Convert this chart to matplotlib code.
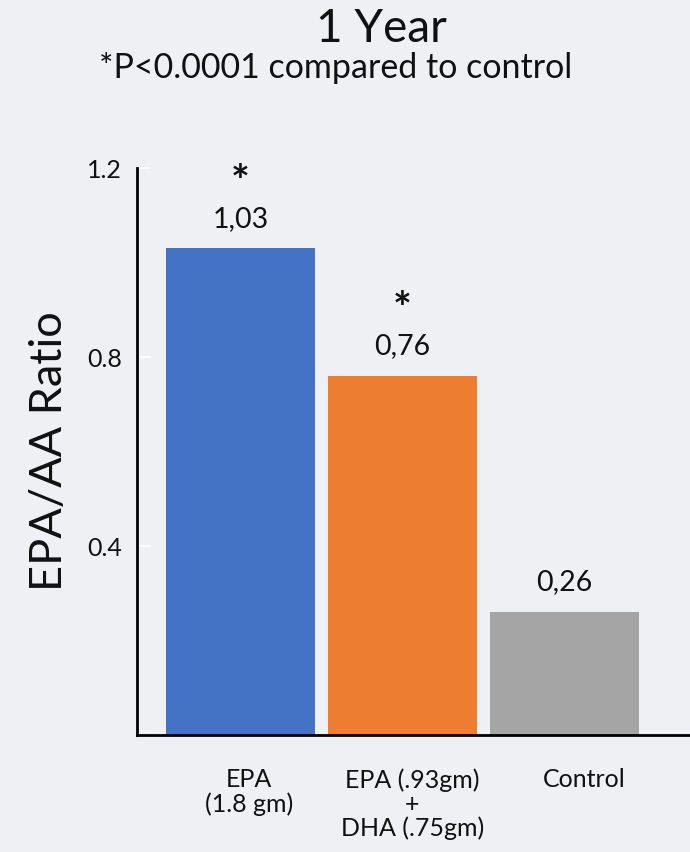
import matplotlib.pyplot as plt
from matplotlib import transforms

groups = ['EPA\n(1.8 gm)', 'EPA (.93gm)\n+\nDHA (.75gm)', 'Control']
ratio = [1.03, 0.76, 0.26]
value_text = ['1,03', '0,76', '0,26']
significant = [True, True, False]
yticks = [0.4, 0.8, 1.2]

colors = ['#4472C4', '#ED7D31', '#A5A5A5']
bg = '#eef0f3'

plt.rcParams['font.family'] = ['Lato', 'DejaVu Sans']

fig = plt.figure(figsize=(6.9, 8.52), dpi=100, facecolor=bg)
ax = fig.add_axes([0.1986, 0.1373, 0.8014, 0.6655], facecolor=bg)

x = list(range(len(ratio)))
ax.bar(x, ratio, width=0.92, color=colors)

for xi, v, t, star in zip(x, ratio, value_text, significant):
    ax.annotate(t, (xi, v), xytext=(0, 12), textcoords='offset points',
                ha='center', va='bottom', fontsize=20.5, color='#111111')
    if star:
        ax.annotate('*', (xi, v), xytext=(0, 33), textcoords='offset points',
                    ha='center', va='bottom', fontsize=32, fontweight='bold',
                    color='#111111')

ax.set_xlim(-0.639, 2.775)
ax.set_ylim(0, 1.2)
ax.set_yticks(yticks)
ax.set_yticklabels([f'{t:.1f}' for t in yticks], fontsize=18, color='#111111')
ax.tick_params(axis='y', direction='in', length=10, width=1.2, color='white', pad=11)

ax.set_xticks(x)
ax.set_xticklabels(groups, fontsize=18, color='#111111', linespacing=1.05, va='top')
ax.tick_params(axis='x', length=0, pad=24)
# nudge category labels a little to the right
for lbl, dx in zip(ax.get_xticklabels(), [6, 7, 14]):
    lbl.set_transform(lbl.get_transform() + transforms.ScaledTranslation(dx / 72, 0, fig.dpi_scale_trans))

for s in ['top', 'right']:
    ax.spines[s].set_visible(False)
ax.spines['left'].set_linewidth(2)
ax.spines['bottom'].set_linewidth(2)

ax.set_ylabel('EPA/AA Ratio', fontsize=32.5, color='#111111', labelpad=12)

fig.text(0.553, 0.966, '1 Year', ha='center', va='center', fontsize=33, color='#111111')
fig.text(0.487, 0.920, '*P<0.0001 compared to control', ha='center', va='center',
         fontsize=24.5, color='#111111')

fig.savefig('out.png', dpi=100, facecolor=bg)
